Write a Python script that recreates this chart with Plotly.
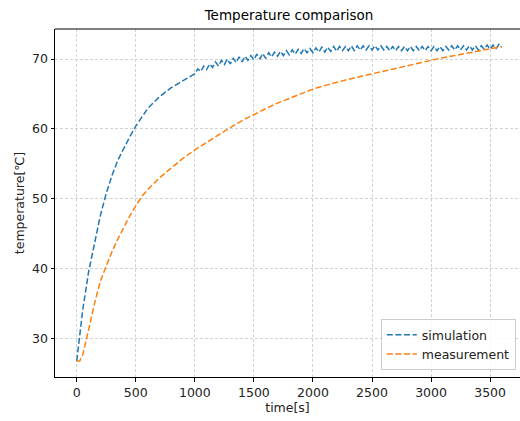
import plotly.graph_objects as go

# --- data ---
sim_t = [0, 25, 50, 100, 150, 200, 250, 300, 350, 400, 450, 500, 600, 700, 800, 900, 1000,
         1025, 1050, 1075, 1100, 1125, 1150, 1175, 1200, 1225, 1250, 1275, 1300, 1325, 1350, 1375,
         1400, 1425, 1450, 1475, 1500, 1525, 1550, 1575, 1600, 1625, 1650, 1675, 1700, 1725, 1750,
         1775, 1800, 1825, 1850, 1875, 1900, 1925, 1950, 1975, 2000, 2025, 2050, 2075, 2100, 2125,
         2150, 2175, 2200, 2225, 2250, 2275, 2300, 2325, 2350, 2375, 2400, 2425, 2450, 2475, 2500,
         2525, 2550, 2575, 2600, 2625, 2650, 2675, 2700, 2725, 2750, 2775, 2800, 2825, 2850, 2875,
         2900, 2925, 2950, 2975, 3000, 3025, 3050, 3075, 3100, 3125, 3150, 3175, 3200, 3225, 3250,
         3275, 3300, 3325, 3350, 3375, 3400, 3425, 3450, 3475, 3500, 3525, 3550, 3575, 3600]
sim_T = [26.8, 30.5, 34.0, 39.5, 43.8, 47.6, 50.8, 53.4, 55.6, 57.3, 58.9, 60.4, 62.9, 64.6, 65.9, 66.9, 67.9,
         68.6, 68.2, 69.0, 68.5, 69.3, 68.8, 69.6, 69.0, 69.8, 69.2, 70.0, 69.3, 70.1, 69.5, 70.3,
         69.6, 70.4, 69.8, 70.5, 69.9, 70.7, 70.0, 70.8, 70.1, 70.9, 70.3, 71.0, 70.4, 71.1, 70.5,
         71.2, 70.6, 71.3, 70.7, 71.4, 70.8, 71.5, 70.9, 71.5, 70.9, 71.6, 71.0, 71.7, 71.0, 71.7,
         71.1, 71.8, 71.1, 71.8, 71.2, 71.8, 71.2, 71.9, 71.2, 71.9, 71.3, 71.9, 71.3, 71.9, 71.3,
         71.9, 71.3, 71.9, 71.3, 71.8, 71.2, 71.8, 71.2, 71.8, 71.2, 71.8, 71.2, 71.8, 71.2, 71.8,
         71.2, 71.8, 71.2, 71.8, 71.2, 71.8, 71.2, 71.8, 71.2, 71.8, 71.3, 71.9, 71.3, 71.9, 71.3,
         71.9, 71.3, 71.9, 71.3, 71.9, 71.3, 71.9, 71.4, 72.0, 71.4, 72.0, 71.5, 72.1, 71.7]

meas_t = [0, 25, 50, 75, 100, 150, 200, 250, 300, 350, 400, 450, 500, 550, 600, 650, 700, 750, 800,
          900, 1000, 1100, 1200, 1300, 1400, 1500, 1600, 1700, 1800, 1900, 2000, 2100, 2200,
          2300, 2400, 2500, 2600, 2700, 2800, 2900, 3000, 3100, 3200, 3300, 3400, 3500, 3600]
meas_T = [26.8, 26.8, 27.6, 29.2, 31.2, 35.0, 38.2, 40.4, 42.5, 44.3, 46.0, 47.6, 49.0, 50.3, 51.3, 52.2,
          53.0, 53.7, 54.4, 55.8, 57.0, 58.1, 59.1, 60.2, 61.2, 62.1, 62.9, 63.7, 64.4, 65.1,
          65.7, 66.2, 66.7, 67.1, 67.5, 67.9, 68.3, 68.7, 69.0, 69.4, 69.8, 70.2, 70.5, 70.8, 71.1, 71.4, 71.8]

x_ticks = [0, 500, 1000, 1500, 2000, 2500, 3000, 3500]
y_ticks = [30, 40, 50, 60, 70]

FONT = "DejaVu Sans, sans-serif"
DASH = "6px,2.6px"

fig = go.Figure()
fig.add_trace(go.Scatter(x=sim_t, y=sim_T, mode="lines", name="simulation",
                         line=dict(color="#1f77b4", width=1.5, dash=DASH)))
fig.add_trace(go.Scatter(x=meas_t, y=meas_T, mode="lines", name="measurement",
                         line=dict(color="#ff7f0e", width=1.5, dash=DASH)))

axis_common = dict(showline=True, linecolor="black", linewidth=1, ticks="outside", ticklen=3.5,
                   tickcolor="black", showgrid=True, gridcolor="#d2d2d2", griddash="3px,2px",
                   gridwidth=0.8, zeroline=False, tickfont=dict(family=FONT, size=12.5, color="#222"))

fig.update_layout(
    width=520, height=421,
    margin=dict(l=55, r=0, t=29, b=44),
    paper_bgcolor="white", plot_bgcolor="white",
    title=dict(text="Temperature comparison", x=(289) / 520, xanchor="center", y=1 - 15 / 421,
               yanchor="middle", font=dict(family=FONT, size=13.5, color="black")),
    xaxis=dict(range=[-184, 3753], tickvals=x_ticks, mirror=False,
               title=dict(text="time[s]", font=dict(family=FONT, size=12.5, color="#222"), standoff=2),
               **axis_common),
    yaxis=dict(range=[24.5, 74.3], tickvals=y_ticks,
               title=dict(text="temperature[℃]", font=dict(family=FONT, size=12.5, color="#222"), standoff=4),
               **axis_common),
    legend=dict(x=0.991, xanchor="right", y=0.02, yanchor="bottom", bgcolor="rgba(255,255,255,0.85)",
                bordercolor="#cccccc", borderwidth=1, font=dict(family=FONT, size=12.5, color="#222"),
                itemwidth=30, tracegroupgap=0),
    showlegend=True,
)
# top spine
fig.add_shape(type="line", xref="paper", yref="paper", x0=0, x1=1, y0=1, y1=1,
              line=dict(color="black", width=1))

fig.write_html("out.html")
